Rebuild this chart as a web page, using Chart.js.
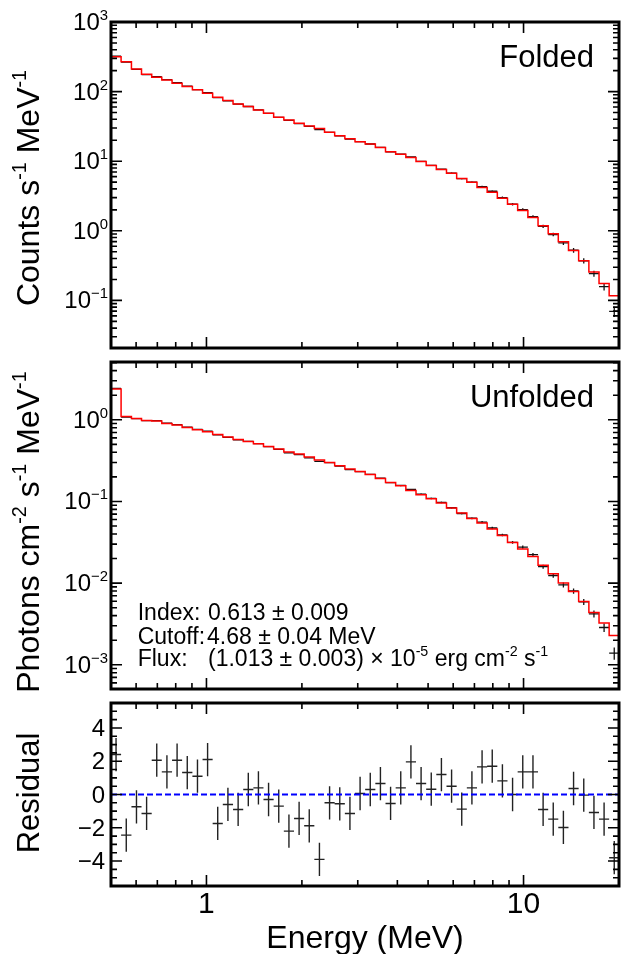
<!DOCTYPE html>
<html>
<head>
<meta charset="utf-8">
<script src="https://cdn.jsdelivr.net/npm/chart.js@4.4.0/dist/chart.umd.min.js"></script>
<style>
  html, body { margin: 0; padding: 0; background: #fff; }
  #wrap { position: relative; width: 621px; height: 954px; }
  #wrap canvas { position: absolute; left: 0; top: 0; }
</style>
</head>
<body>
<div id="wrap">
  <canvas id="folded" width="621" height="954"></canvas>
  <canvas id="unfolded" width="621" height="954"></canvas>
  <canvas id="resid" width="621" height="954"></canvas>
</div>
<script>
// energy bin edges (MeV), 50 log-spaced bins
const binEdges = [0.500, 0.538, 0.580, 0.624, 0.672, 0.723, 0.779, 0.838, 0.903, 0.972,
  1.046, 1.126, 1.213, 1.306, 1.406, 1.513, 1.629, 1.754, 1.889, 2.033,
  2.189, 2.357, 2.537, 2.732, 2.941, 3.166, 3.409, 3.670, 3.951, 4.254,
  4.580, 4.931, 5.308, 5.715, 6.153, 6.624, 7.132, 7.678, 8.266, 8.900,
  9.581, 10.32, 11.11, 11.96, 12.87, 13.86, 14.92, 16.07, 17.30, 18.62, 20.05];

// folded spectrum (counts s^-1 MeV^-1)
const foldedModel = [318, 269, 211, 177, 161, 147, 132, 118, 106, 94.6,
  83.0, 74.2, 66.5, 60.9, 54.6, 48.9, 42.8, 39.2, 35.1, 32.1,
  29.4, 26.1, 23.3, 21.1, 19.1, 17.6, 15.7, 13.7, 12.6, 11.3,
  9.89, 8.65, 7.58, 6.72, 5.63, 4.99, 4.19, 3.59, 2.94, 2.41,
  1.96, 1.55, 1.18, 0.906, 0.695, 0.522, 0.372, 0.255, 0.175, 0.117];
const foldedData = [322, 265, 209, 175, 164, 149, 134, 120, 107, 96.5,
  82.0, 73.8, 66.0, 61.1, 54.8, 48.7, 42.5, 38.6, 34.7, 31.6,
  28.4, 26.0, 23.2, 20.8, 19.1, 17.65, 15.8, 13.65, 12.65, 11.55,
  9.95, 8.70, 7.68, 6.76, 5.60, 5.02, 4.30, 3.70, 2.99, 2.41,
  2.02, 1.60, 1.16, 0.885, 0.670, 0.525, 0.371, 0.242, 0.158, 0.0695];

// unfolded spectrum (photons cm^-2 s^-1 MeV^-1)
const unfoldedModel = [2.38, 1.10, 1.04, 0.981, 0.963, 0.901, 0.861, 0.805, 0.755, 0.713,
  0.661, 0.614, 0.574, 0.543, 0.508, 0.471, 0.438, 0.402, 0.380, 0.349,
  0.321, 0.300, 0.273, 0.249, 0.232, 0.214, 0.191, 0.171, 0.156, 0.136,
  0.121, 0.108, 0.0954, 0.0829, 0.0720, 0.0619, 0.0543, 0.0459, 0.0383, 0.0315,
  0.0261, 0.0212, 0.0166, 0.0130, 0.0100, 0.00791, 0.00596, 0.00437, 0.00324, 0.00229];
const unfoldedData = [2.42, 1.08, 1.035, 0.975, 0.975, 0.910, 0.872, 0.810, 0.762, 0.725,
  0.652, 0.610, 0.568, 0.545, 0.510, 0.468, 0.434, 0.393, 0.374, 0.342,
  0.310, 0.299, 0.271, 0.245, 0.232, 0.215, 0.193, 0.170, 0.157, 0.140,
  0.123, 0.109, 0.0975, 0.0837, 0.0712, 0.0623, 0.0558, 0.0473, 0.0389, 0.0315,
  0.0276, 0.0223, 0.0159, 0.0124, 0.0095, 0.0080, 0.0059, 0.0042, 0.00286, 0.00139];

// fractional 1-sigma errors per bin
const relErr = [0.012, 0.012, 0.012, 0.012, 0.012, 0.012, 0.012, 0.012, 0.012, 0.012,
  0.012, 0.012, 0.012, 0.012, 0.012, 0.013, 0.013, 0.013, 0.014, 0.014,
  0.014, 0.015, 0.015, 0.016, 0.016, 0.017, 0.018, 0.018, 0.019, 0.020,
  0.021, 0.022, 0.023, 0.025, 0.027, 0.029, 0.031, 0.034, 0.037, 0.040,
  0.044, 0.048, 0.054, 0.060, 0.068, 0.076, 0.086, 0.100, 0.120, 0.170];

// residuals in sigma units (error bar is +-1)
const residuals = [2.4, -2.44, -0.74, -1.14, 2.06, 1.36, 2.06, 1.32, 1.1, 2.1,
  -1.74, -0.6, -0.9, 0.3, 0.4, -0.3, -0.7, -2.2, -1.44, -1.88,
  -3.9, -0.5, -0.56, -1.14, 0.06, 0.3, 0.66, -0.54, 0.4, 1.96,
  0.66, 0.32, 1.2, 0.5, -0.88, 0.4, 1.66, 1.7, 0.82, 0.0,
  1.36, 1.36, -0.9, -1.48, -1.98, 0.36, -0.04, -1.08, -1.48, -3.8];
const RESID_SIGMA = 1;

// axis ticks
const xMajor = [1, 10];
const xMinor = [0.5, 0.6, 0.7, 0.8, 0.9, 2, 3, 4, 5, 6, 7, 8, 9, 20];
const xTickLabels = ['1', '10'];
const foldedExps = [-1, 0, 1, 2, 3];
const unfoldedExps = [-3, -2, -1, 0];
const residMajor = [-4, -2, 0, 2, 4];

const FONT = '"Liberation Sans", Arial, Helvetica, sans-serif';

function stepPoints(vals) {
  const pts = vals.map((v, i) => ({ x: binEdges[i], y: v }));
  pts.push({ x: binEdges[vals.length], y: vals[vals.length - 1] });
  return pts;
}

function crossPoints(vals, errs) {
  const pts = [];
  vals.forEach((v, i) => {
    const lo = binEdges[i], hi = binEdges[i + 1], c = Math.sqrt(lo * hi);
    pts.push({ x: lo, y: v }, { x: hi, y: v }, { x: c, y: null });
    pts.push({ x: c, y: v - errs[i] }, { x: c, y: v + errs[i] }, { x: c, y: null });
  });
  return pts;
}

function logTicks(min, max) {
  const out = [];
  for (let e = Math.floor(Math.log10(min)); e <= Math.ceil(Math.log10(max)); e++) {
    for (let m = 1; m <= 9; m++) {
      const v = m * Math.pow(10, e);
      if (v >= min * 0.999 && v <= max * 1.001) out.push({ v, major: m === 1 });
    }
  }
  return out;
}

function drawRich(ctx, parts, x, y, size, align) {
  const small = size * 0.62, rise = size * 0.42;
  let w = 0;
  const widths = parts.map(([t, sup]) => {
    ctx.font = (sup ? small : size) + 'px ' + FONT;
    const m = ctx.measureText(t).width;
    w += m;
    return m;
  });
  let cx = align === 'right' ? x - w : align === 'center' ? x - w / 2 : x;
  parts.forEach(([t, sup], i) => {
    ctx.font = (sup ? small : size) + 'px ' + FONT;
    ctx.fillText(t, cx, sup ? y - rise : y);
    cx += widths[i];
  });
}

function drawVertical(ctx, parts, x, y, size) {
  ctx.save();
  ctx.translate(x, y);
  ctx.rotate(-Math.PI / 2);
  drawRich(ctx, parts, 0, 0, size, 'center');
  ctx.restore();
}

// frame, inward ticks on all four sides, labels
function decor(yTicks, extra) {
  return {
    id: 'decor',
    afterDatasetsDraw(chart) {
      const { ctx, chartArea: a, scales: { x, y } } = chart;
      ctx.save();
      ctx.strokeStyle = '#000';
      ctx.fillStyle = '#000';
      ctx.lineWidth = 1.6;
      ctx.beginPath();
      const xt = xMajor.map(v => ({ v, major: true })).concat(xMinor.map(v => ({ v, major: false })));
      xt.forEach(t => {
        const px = x.getPixelForValue(t.v), len = t.major ? 11 : 6;
        ctx.moveTo(px, a.bottom); ctx.lineTo(px, a.bottom - len);
        ctx.moveTo(px, a.top); ctx.lineTo(px, a.top + len);
      });
      yTicks.forEach(t => {
        const py = y.getPixelForValue(t.v), len = t.major ? 11 : 6;
        ctx.moveTo(a.left, py); ctx.lineTo(a.left + len, py);
        ctx.moveTo(a.right, py); ctx.lineTo(a.right - len, py);
      });
      ctx.stroke();
      ctx.lineWidth = 3;
      ctx.strokeRect(a.left, a.top, a.right - a.left, a.bottom - a.top);
      ctx.textAlign = 'left';
      ctx.textBaseline = 'alphabetic';
      extra(ctx, a, x, y);
      ctx.restore();
    }
  };
}

function expLabels(ctx, a, y, exps) {
  exps.forEach(e => {
    const py = y.getPixelForValue(Math.pow(10, e));
    const s = e < 0 ? '\u2212' + (-e) : String(e);
    drawRich(ctx, [['10'], [s, true]], a.left - 3, py + 8, 24, 'right');
  });
}

function makeChart(id, top, bottom, yScale, datasets, yTicks, extra) {
  return new Chart(document.getElementById(id), {
    type: 'line',
    data: { datasets },
    options: {
      responsive: false,
      animation: false,
      layout: { padding: { left: 111, right: 2, top: top, bottom: 954 - bottom } },
      plugins: { legend: { display: false }, tooltip: { enabled: false } },
      elements: { point: { radius: 0 }, line: { tension: 0 } },
      scales: {
        x: { type: 'logarithmic', min: 0.5, max: 20, bounds: 'data', display: false },
        y: Object.assign({ display: false, bounds: 'data' }, yScale)
      }
    },
    plugins: [decor(yTicks, extra)]
  });
}

function spectrumSets(model, data) {
  return [
    { data: stepPoints(model), stepped: 'before', borderColor: '#ff0000', borderWidth: 1.5 },
    { data: crossPoints(data, data.map((v, i) => v * relErr[i])), borderColor: '#111', borderWidth: 1.3 }
  ];
}

// panel 1: folded
makeChart('folded', 22, 348,
  { type: 'logarithmic', min: 0.0207, max: 1000 },
  spectrumSets(foldedModel, foldedData),
  logTicks(0.0207, 1000),
  (ctx, a, x, y) => {
    expLabels(ctx, a, y, foldedExps);
    ctx.font = '31px ' + FONT;
    ctx.textAlign = 'right';
    ctx.fillText('Folded', 594, 67);
    ctx.textAlign = 'left';
    drawVertical(ctx, [['Counts s'], ['-1', true], [' MeV'], ['-1', true]], 39, 188, 32);
  });

// panel 2: unfolded
makeChart('unfolded', 362, 689,
  { type: 'logarithmic', min: 5.05e-4, max: 5.1 },
  spectrumSets(unfoldedModel, unfoldedData),
  logTicks(5.05e-4, 5.1),
  (ctx, a, x, y) => {
    expLabels(ctx, a, y, unfoldedExps);
    ctx.font = '31px ' + FONT;
    ctx.textAlign = 'right';
    ctx.fillText('Unfolded', 594, 407);
    ctx.textAlign = 'left';
    drawVertical(ctx, [['Photons cm'], ['-2', true], [' s'], ['-1', true], [' MeV'], ['-1', true]], 39, 532, 32);
    const fs = 23;
    drawRich(ctx, [['Index:']], 137.7, 619.5, fs, 'left');
    drawRich(ctx, [['0.613 \u00b1 0.009']], 208, 619.5, fs, 'left');
    drawRich(ctx, [['Cutoff:']], 137.7, 644, fs, 'left');
    drawRich(ctx, [['4.68 \u00b1 0.04 MeV']], 207, 644, fs, 'left');
    drawRich(ctx, [['Flux:']], 137.7, 666, fs, 'left');
    drawRich(ctx, [['(1.013 \u00b1 0.003) \u00d7 10'], ['-5', true], [' erg cm'], ['-2', true], [' s'], ['-1', true]], 208, 666, fs, 'left');
  });

// panel 3: residuals
const residTicks = [];
for (let k = -11; k <= 11; k++) residTicks.push({ v: k / 2, major: residMajor.includes(k / 2) });
const residCross = crossPoints(residuals, residuals.map(() => RESID_SIGMA));
makeChart('resid', 703, 886,
  { type: 'linear', min: -5.5, max: 5.5 },
  [
    { data: [{ x: 0.5, y: 0 }, { x: 20, y: 0 }], borderColor: '#0000ff', borderWidth: 2, borderDash: [6, 3] },
    { data: residCross, borderColor: '#222', borderWidth: 1.4 }
  ],
  residTicks,
  (ctx, a, x, y) => {
    residMajor.forEach(v => {
      const s = v < 0 ? '\u2212' + (-v) : String(v);
      drawRich(ctx, [[s]], a.left - 6, y.getPixelForValue(v) + 8, 24, 'right');
    });
    xMajor.forEach((v, i) => {
      drawRich(ctx, [[xTickLabels[i]]], x.getPixelForValue(v), 913, 30, 'center');
    });
    drawVertical(ctx, [['Residual']], 39, 793, 31);
    drawRich(ctx, [['Energy (MeV)']], 365, 948, 32, 'center');
  });
</script>
</body>
</html>
